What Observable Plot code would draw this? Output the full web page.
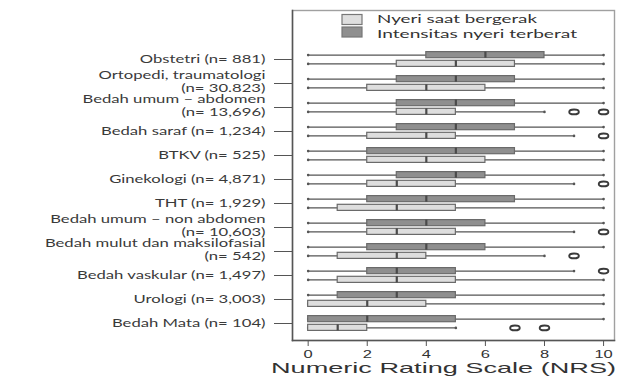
<!DOCTYPE html>
<html><head><meta charset="utf-8">
<script src="https://cdn.jsdelivr.net/npm/d3@7"></script>
<script src="https://cdn.jsdelivr.net/npm/@observablehq/plot@0.6"></script>
<style>body{margin:0;background:#fff;}#chart{position:relative;width:622px;height:379px;}</style>
</head><body><div id="chart"></div>
<script>
const categories = [
  "Obstetri (n= 881)",
  "Ortopedi, traumatologi\n(n= 30.823)",
  "Bedah umum – abdomen\n(n= 13,696)",
  "Bedah saraf (n= 1,234)",
  "BTKV (n= 525)",
  "Ginekologi (n= 4,871)",
  "THT (n= 1,929)",
  "Bedah umum – non abdomen\n(n= 10,603)",
  "Bedah mulut dan maksilofasial\n(n= 542)",
  "Bedah vaskular (n= 1,497)",
  "Urologi (n= 3,003)",
  "Bedah Mata (n= 104)"
];
const seriesNames = ["Nyeri saat bergerak", "Intensitas nyeri terberat"];
const xTicks = [0, 2, 4, 6, 8, 10];
const xTitle = "Numeric Rating Scale (NRS)";

// Intensitas nyeri terberat (dark)
const darkLow  = [0,0,0,0,0,0,0,0,0,0,0,0];
const darkQ1   = [4,3,3,3,2,3,2,2,2,2,1,0];
const darkMed  = [6,5,5,5,5,5,4,4,4,3,3,2];
const darkQ3   = [8,7,7,7,7,6,7,6,6,5,5,5];
const darkHigh = [10,10,10,10,10,10,10,10,10,9,10,10];
const darkOutCat = [9];
const darkOutVal = [10];

// Nyeri saat bergerak (light)
const lightLow  = [0,0,0,0,0,0,0,0,0,0,0,0];
const lightQ1   = [3,2,3,2,2,2,1,2,1,1,0,0];
const lightMed  = [5,4,4,4,4,3,3,3,3,3,2,1];
const lightQ3   = [7,6,5,5,6,5,5,5,4,5,4,2];
const lightHigh = [10,10,8,9,10,9,10,9,8,10,10,5];
const lightOutCat = [2,2,3,5,7,8,11,11];
const lightOutVal = [9,10,10,10,10,9,7,8];

const mk = (low,q1,med,q3,high) => categories.map((c,i)=>({cat:c, low:low[i], q1:q1[i], med:med[i], q3:q3[i], high:high[i]}));
const dark = mk(darkLow,darkQ1,darkMed,darkQ3,darkHigh);
const light = mk(lightLow,lightQ1,lightMed,lightQ3,lightHigh);
const ends = rows => rows.flatMap(r => [{cat:r.cat, v:r.low},{cat:r.cat, v:r.high}]);
const darkOut = darkOutCat.map((c,i)=>({cat:categories[c], v:darkOutVal[i]}));
const lightOut = lightOutCat.map((c,i)=>({cat:categories[c], v:lightOutVal[i]}));

const ellipse = {draw(ctx, size){
  const r = Math.sqrt(size/Math.PI), rx = r*2.0, ry = r, k = 0.5523;
  ctx.moveTo(rx,0);
  ctx.bezierCurveTo(rx, ry*k, rx*k, ry, 0, ry);
  ctx.bezierCurveTo(-rx*k, ry, -rx, ry*k, -rx, 0);
  ctx.bezierCurveTo(-rx, -ry*k, -rx*k, -ry, 0, -ry);
  ctx.bezierCurveTo(rx*k, -ry, rx, -ry*k, rx, 0);
  ctx.closePath();
}};

const DARK = "#8f8f8f", LIGHT = "#dedede", EDGE = "#6a6a6a", LINE = "#555";
const offD = -4.4, offL = 4.4;
const inA = 4.6, inB = 13.3;

function boxMarks(rows, out, fill, off, iTop, iBot){
  return [
    Plot.ruleY(rows, {y:"cat", x1:"low", x2:"high", dy:off, stroke:LINE, strokeWidth:1.2}),
    Plot.dot(ends(rows), {y:"cat", x:"v", dy:off, r:1.3, fill:LINE, stroke:null}),
    Plot.barX(rows, {y:"cat", x1:"q1", x2:"q3", fill, stroke:EDGE, strokeWidth:1.2, insetTop:iTop, insetBottom:iBot}),
    Plot.tickX(rows, {y:"cat", x:"med", stroke:"#4a4a4a", strokeWidth:2.2, insetTop:iTop, insetBottom:iBot}),
    Plot.dot(out, {y:"cat", x:"v", dy:off, r:2.4, symbol:ellipse, stroke:"#3a3a3a", strokeWidth:1.9, fill:"white"})
  ];
}

const plot = Plot.plot({
  width: 622, height: 379,
  marginLeft: 292, marginRight: 8, marginTop: 10, marginBottom: 39,
  style: {fontFamily: "Lato, sans-serif", fontSize: "11px", color: "#333", background: "white"},
  x: {domain: [-0.53, 10.37], ticks: xTicks},
  y: {type: "band", domain: categories, range: [44.3, 337.4], padding: 0},
  marks: [
    Plot.frame({stroke: "#a0a0a0", strokeWidth: 1.4}),
    ...boxMarks(dark, darkOut, DARK, offD, inA, inB),
    ...boxMarks(light, lightOut, LIGHT, offL, inB, inA),
    Plot.axisX({ticks: xTicks, tickSize: 6, tickPadding: 4, stroke: LINE, fill: "#333", label: null, fontFamily: "Liberation Sans, Arial, sans-serif", fontSize: 11}),
    Plot.axisY({tickSize: 18, tickPadding: 9, stroke: LINE, fill: "#3a3a3a", label: null, fontSize: 11.5}),
    Plot.frame({anchor: "left", stroke: LINE, strokeWidth: 1.5}),
    Plot.frame({anchor: "bottom", stroke: LINE, strokeWidth: 1.5})
  ]
});
document.getElementById("chart").appendChild(plot);

const svg = d3.select(plot);
// stretch text horizontally like the reference
function stretch(sel, s){
  sel.each(function(){
    const t = this.getAttribute("transform") || "";
    this.setAttribute("transform", t + ` scale(${s},1)`);
  });
}
stretch(svg.selectAll('g[aria-label="y-axis tick label"] text'), 1.45);
stretch(svg.selectAll('g[aria-label="x-axis tick label"] text'), 1.5);

// line spacing for two-line category labels (sit slightly above the tick)
svg.selectAll('g[aria-label="y-axis tick label"] text').each(function(){
  const spans = this.querySelectorAll("tspan");
  if (spans.length < 2) return;
  const n = spans.length, lh = 12.7;
  this.removeAttribute("y");
  spans.forEach((ts, i) => {
    ts.removeAttribute("dy");
    ts.setAttribute("x", 0);
    ts.setAttribute("y", ((i - (n - 1) / 2) * lh + 2).toFixed(1));
  });
});

// x axis title
svg.append("text").attr("aria-label", "x-axis label")
  .attr("x", 443.5).attr("y", 373).attr("text-anchor", "middle")
  .attr("font-family", "Liberation Sans, Arial, sans-serif").attr("font-size", 15)
  .attr("fill", "#333").attr("textLength", 345).attr("lengthAdjust", "spacingAndGlyphs")
  .text(xTitle);

// legend inside the frame
const lg = svg.append("g").attr("aria-label", "legend");
const legendFills = [LIGHT, DARK];
seriesNames.forEach((name, i) => {
  lg.append("rect").attr("x", 342).attr("y", 14.5 + i * 12.5).attr("width", 20).attr("height", 10)
    .attr("fill", legendFills[i]).attr("stroke", "#777").attr("stroke-width", 1.2);
  lg.append("text").attr("x", 377).attr("y", 22.5 + i * 15).attr("text-anchor", "start")
    .attr("font-family", "Lato, sans-serif")
    .attr("font-size", 12).attr("fill", "#333")
    .attr("textLength", i === 0 ? 160 : 200).attr("lengthAdjust", "spacingAndGlyphs").text(name);
});
</script>
</body></html>
